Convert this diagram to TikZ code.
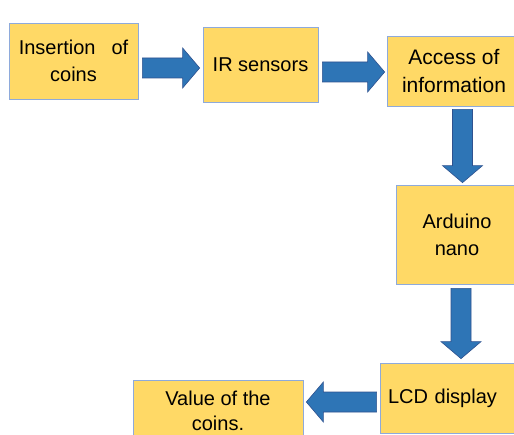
\documentclass[tikz,border=0pt]{standalone}
\usepackage{fontspec}
\setmainfont{Liberation Sans}
\usetikzlibrary{calc}

\definecolor{boxfill}{HTML}{FFD966}
\definecolor{boxedge}{HTML}{8EAADB}
\definecolor{arrowfill}{HTML}{2E75B6}
\definecolor{arrowedge}{HTML}{2F528F}

\begin{document}
\begin{tikzpicture}[x=1pt, y=1pt,
  block/.style={draw=boxedge, fill=boxfill, line width=0.7pt, inner sep=0pt, align=center,
    font=\fontsize{20}{27}\selectfont},
  fat/.style={draw=arrowedge, fill=arrowfill, line width=0.6pt, line join=miter,
    to path={($(\tikztostart)!10pt!90:(\tikztotarget)$)
      -- ($(\tikztotarget)!17pt!(\tikztostart)!10pt!-90:(\tikztostart)$)
      -- ($(\tikztotarget)!17pt!(\tikztostart)!20pt!-90:(\tikztostart)$)
      -- (\tikztotarget)
      -- ($(\tikztotarget)!17pt!(\tikztostart)!20pt!90:(\tikztostart)$)
      -- ($(\tikztotarget)!17pt!(\tikztostart)!10pt!90:(\tikztostart)$)
      -- ($(\tikztostart)!10pt!-90:(\tikztotarget)$) -- cycle}}]

  \useasboundingbox (0,0) rectangle (514,434);
  \clip (0,0) rectangle (514,434);

  \node [block, minimum width=129pt, minimum height=76pt] (ins) at (73.5,373) {Insertion\hspace{16pt}of\\coins};
  \node [block, minimum width=115pt, minimum height=75pt] (ir) at (260.5,369.5) {IR sensors};
  \node [block, minimum width=134pt, minimum height=70pt, font=\fontsize{21}{28}\selectfont] (acc) at (454,363) {Access of\\information};
  \node [block, minimum width=122pt, minimum height=99pt] (ard) at (457,199.5) {Arduino\\nano};
  \node [block, minimum width=145pt, minimum height=70pt, text width=129pt, align=left] (lcd) at (452.5,36) {LCD display};
  \node [block, minimum width=170pt, minimum height=62pt, font=\fontsize{20}{25}\selectfont] (val) at (218,23) {Value of the\\coins.};

  \draw [fat] ([shift={(4,-7)}]ins.east) to ([shift={(-3,-3.5)}]ir.west);
  \draw [fat] ([shift={(4,-7.5)}]ir.east) to ([shift={(-2,-1)}]acc.west);
  \draw [fat] ([shift={(8.5,-3)}]acc.south) to ([shift={(5.5,2)}]ard.north);
  \draw [fat] ([shift={(4,-4)}]ard.south) to ([shift={(8.5,4)}]lcd.north);
  \draw [fat] ([shift={(-3,-4)}]lcd.west) to ([shift={(3,9)}]val.east);
\end{tikzpicture}
\end{document}
